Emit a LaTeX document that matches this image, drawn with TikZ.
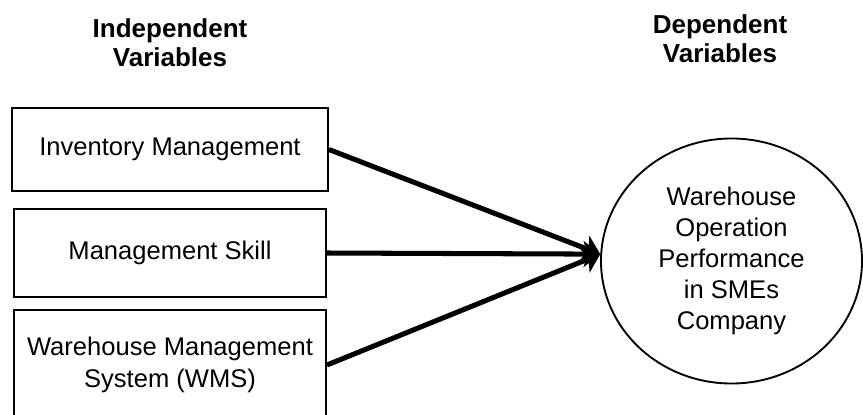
\documentclass[tikz,border=0pt]{standalone}
\usepackage{fontspec}
\setmainfont{Liberation Sans}
\usetikzlibrary{arrows.meta,shapes.geometric}

\begin{document}
\begin{tikzpicture}[x=0.03cm,y=-0.03cm,>={Stealth[length=0.5cm,width=0.78cm,inset=0.12cm]},
  font=\fontsize{21.8}{27}\selectfont,
  varbox/.style={draw,line width=1.6pt,align=center,inner sep=0pt},
  head/.style={font=\fontsize{22.2}{24.8}\selectfont\bfseries,align=center},
  link/.style={->,line width=4.3pt}]
\useasboundingbox (0,0) rectangle (863,414);
% column headings
\node[head] (ivhead) at (170,43) {Independent\\Variables};
\node[head] (dvhead) at (720,39) {Dependent\\Variables};
% independent variables
\node[varbox,minimum width=9.48cm,minimum height=2.49cm] (inv) at (170,149.5) {Inventory Management};
\node[varbox,minimum width=9.36cm,minimum height=2.64cm] (skill) at (170,253) {Management Skill};
\node[varbox,minimum width=9.36cm,minimum height=3.30cm] (wms) at (170,365) {Warehouse Management\\System (WMS)};
% dependent variable
\node[ellipse,draw,line width=1.6pt,inner sep=0pt,minimum width=7.83cm,minimum height=7.35cm,
  align=center,font=\fontsize{21.8}{26.5}\selectfont] (perf) at (731.5,261)
  {Warehouse\\Operation\\Performance\\in SMEs\\Company};
\draw[link] (inv.east) -- (perf.177);
\draw[link] (skill.east) -- (perf.177);
\draw[link] (wms.east) -- (perf.177);
\end{tikzpicture}
\end{document}
